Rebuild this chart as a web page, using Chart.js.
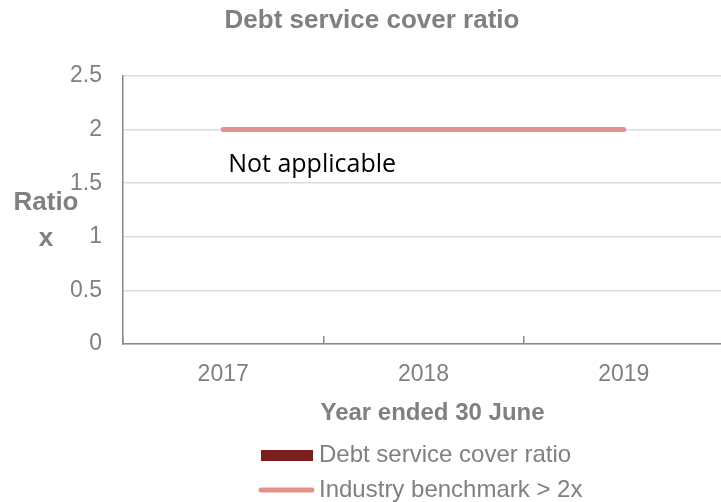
<!DOCTYPE html>
<html>
<head>
<meta charset="utf-8">
<script src="https://cdn.jsdelivr.net/npm/chart.js@4.4.1/dist/chart.umd.min.js"></script>
<style>
  html, body { margin: 0; padding: 0; background: #fff; overflow: hidden; }
</style>
</head>
<body>
<canvas id="chart" width="724" height="502"></canvas>
<script>
// Values.
const YEARS = ['2017', '2018', '2019'];
const DSCR = [null, null, null]; // no debt, so the ratio is "Not applicable"
const BENCHMARK = [2, 2, 2];
const Y_MIN = 0;
const Y_MAX = 2.5;
const Y_STEP = 0.5;

const TITLE = 'Debt service cover ratio';
const X_TITLE = 'Year ended 30 June';
const Y_TITLE = ['Ratio', 'x'];
const NOTE = 'Not applicable';

const GREY = '#808080';
const AXIS_GREY = '#898989';
const FONT = "'Liberation Sans', Arial, sans-serif";

// Everything around the plot (title, axis titles, stacked legend, note)
// is drawn here so it can sit exactly where the reference puts it.
const decorations = {
  id: 'decorations',
  afterDraw(chart) {
    const { ctx, chartArea, scales } = chart;
    ctx.save();
    ctx.fillStyle = GREY;
    ctx.textAlign = 'center';
    ctx.textBaseline = 'middle';

    ctx.font = `bold 26px ${FONT}`;
    ctx.fillText(TITLE, 372, 21);
    ctx.fillText(Y_TITLE[0], chartArea.left - 77, 203);
    ctx.fillText(Y_TITLE[1], chartArea.left - 77, 239);
    ctx.font = `bold 24px ${FONT}`;
    ctx.fillText(X_TITLE, (chartArea.left + chartArea.right) / 2 + 9, chartArea.bottom + 69);

    // note over the (empty) ratio bars
    ctx.fillStyle = '#000';
    ctx.textAlign = 'left';
    ctx.font = "25px 'Open Sans', sans-serif";
    ctx.fillText(NOTE, scales.x.getPixelForValue(0) + 5, scales.y.getPixelForValue(1.67));

    // legend, one entry per row
    ctx.font = `24px ${FONT}`;
    chart.data.datasets.forEach((ds, i) => {
      const y = chart.height - 47 + i * 35;
      if (ds.type === 'line') {
        ctx.strokeStyle = ds.borderColor;
        ctx.lineWidth = 5;
        ctx.lineCap = 'round';
        ctx.beginPath();
        ctx.moveTo(261, y);
        ctx.lineTo(312, y);
        ctx.stroke();
      } else {
        ctx.fillStyle = ds.backgroundColor;
        ctx.fillRect(261, y - 5, 52, 11);
      }
      ctx.fillStyle = GREY;
      ctx.fillText(ds.label, 319, y);
    });
    ctx.restore();
  },
};

new Chart(document.getElementById('chart'), {
  type: 'bar',
  data: {
    labels: YEARS,
    datasets: [
      {
        label: 'Debt service cover ratio',
        data: DSCR,
        backgroundColor: '#7A1D1D',
        order: 2,
      },
      {
        type: 'line',
        label: 'Industry benchmark > 2x',
        data: BENCHMARK,
        borderColor: '#E6918D',
        borderWidth: 5,
        borderCapStyle: 'round',
        pointRadius: 0,
        order: 1,
      },
    ],
  },
  options: {
    responsive: false,
    animation: false,
    layout: { padding: { top: 76, left: 0, right: 0, bottom: 70 } },
    plugins: {
      legend: { display: false },
      title: { display: false },
      tooltip: { enabled: false },
    },
    scales: {
      x: {
        offset: true,
        grid: {
          offset: true,
          drawOnChartArea: false,
          drawTicks: true,
          tickLength: -8,
          color: AXIS_GREY,
          lineWidth: 1.5,
        },
        border: { color: AXIS_GREY, width: 1.5 },
        ticks: { color: GREY, font: { family: FONT, size: 23 }, padding: 25 },
        afterFit(scale) { scale.height = 88; },
      },
      y: {
        min: Y_MIN,
        max: Y_MAX,
        ticks: {
          stepSize: Y_STEP,
          color: GREY,
          font: { family: FONT, size: 23 },
          padding: 21,
          callback: (v) => String(v),
        },
        grid: { color: '#DCDCDC', lineWidth: 1.5, drawTicks: false },
        border: { color: AXIS_GREY, width: 1.5 },
        afterFit(scale) { scale.width = 123; },
      },
    },
  },
  plugins: [decorations],
});
</script>
</body>
</html>
